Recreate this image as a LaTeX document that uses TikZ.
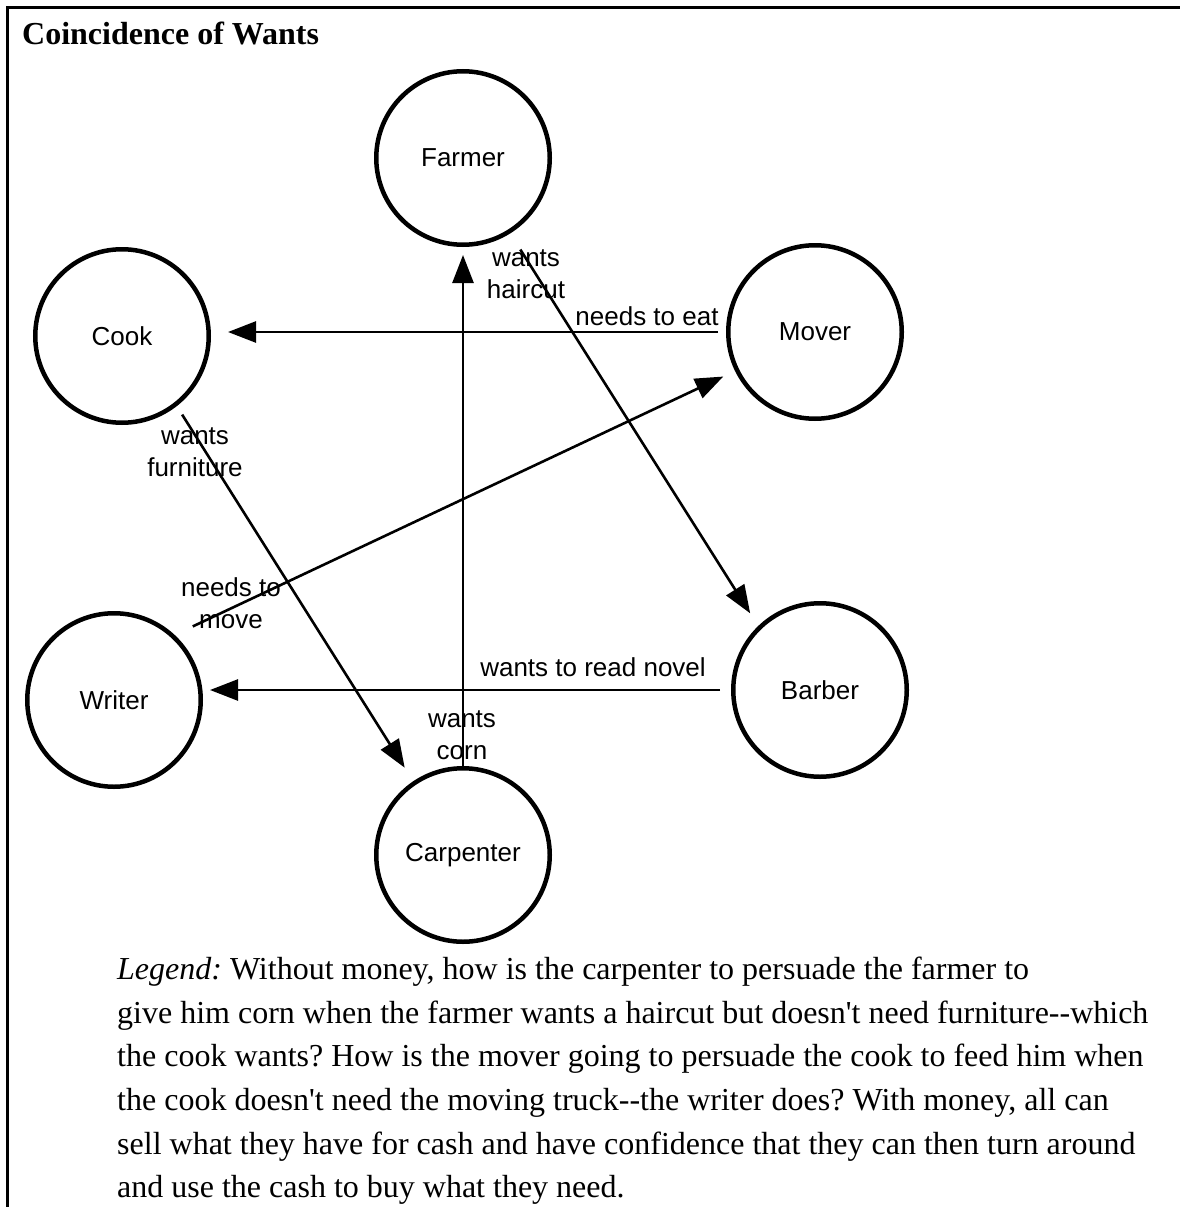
\documentclass[tikz,border=0pt]{standalone}
\usepackage{fontspec}
\setmainfont{Liberation Serif}[Ligatures=TeXOff]
\newfontfamily\agentfont{Liberation Sans}
\usepackage{tikz}
\usetikzlibrary{arrows.meta}
\frenchspacing

\begin{document}
\begin{tikzpicture}[
                x=1pt, y=-1pt,
                agent node/.style={circle,draw,line width=4.5pt,minimum size=173.5pt,inner sep=0pt,
                  font=\agentfont\fontsize{26}{32}\selectfont},
                want label/.style={align=center,inner sep=0pt,font=\agentfont\fontsize{26}{32}\selectfont},
                want/.style={line width=2.6pt,-{Triangle[length=28pt,width=21pt]}},
                ]
                \useasboundingbox (0,0) rectangle (1180,1207);
                \draw[line width=3pt] (7.5,1207) -- (7.5,7.5) -- (1180,7.5);
                \node[anchor=base west,inner sep=0pt,font=\bfseries\fontsize{32}{38}\selectfont] (title) at (22,45) {Coincidence of Wants};

                \node[agent node] (farmer) at (463,158) {Farmer};
                \node[agent node] (cook) at (122,336) {Cook};
                \node[agent node] (mover) at (815,332) {Mover};
                \node[agent node] (writer) at (114,700) {Writer};
                \node[agent node] (barber) at (820,690) {Barber};
                \node[agent node] (carpenter) at (463,855) {Carpenter};

                \draw[want, shorten <=-4pt, shorten >=8pt] (carpenter.north) -- (farmer.south);
                \draw[want, shorten <=8pt, shorten >=17pt] (mover.west) -- (cook.east |- mover.west);
                \draw[want, shorten <=11pt, shorten >=7pt] (barber.west) -- (writer.east |- barber.west);
                \draw[want, shorten <=19pt, shorten >=15pt] (farmer.-58) -- (barber.134);
                \draw[want, shorten <=10pt, shorten >=16pt] (cook.-52) -- (carpenter.124);
                \draw[want, shorten <=20pt, shorten >=13pt] (writer.47) -- (mover.206);

                \node[want label] (haircut) at (526,274) {wants\\haircut};
                \node[want label] (furniture) at (195,452.5) {wants\\furniture};
                \node[want label] (move) at (231,603.5) {needs to\\move};
                \node[want label] (corn) at (462,735.5) {wants\\corn};
                \node[want label,anchor=base] (eat) at (647,325) {needs to eat};
                \node[want label,anchor=base] (novel) at (593,676) {wants to read novel};

                \node[anchor=north west,align=left,inner sep=0pt,font=\fontsize{32}{43.6}\selectfont] (legend) at (117,957)
                  {\textit{Legend:} Without money, how is the carpenter to persuade the farmer to\\
                   give him corn when the farmer wants a haircut but doesn't need furniture--which\\
                   the cook wants? How is the mover going to persuade the cook to feed him when\\
                   the cook doesn't need the moving truck--the writer does? With money, all can\\
                   sell what they have for cash and have confidence that they can then turn around\\
                   and use the cash to buy what they need.};
            \end{tikzpicture}
\end{document}
